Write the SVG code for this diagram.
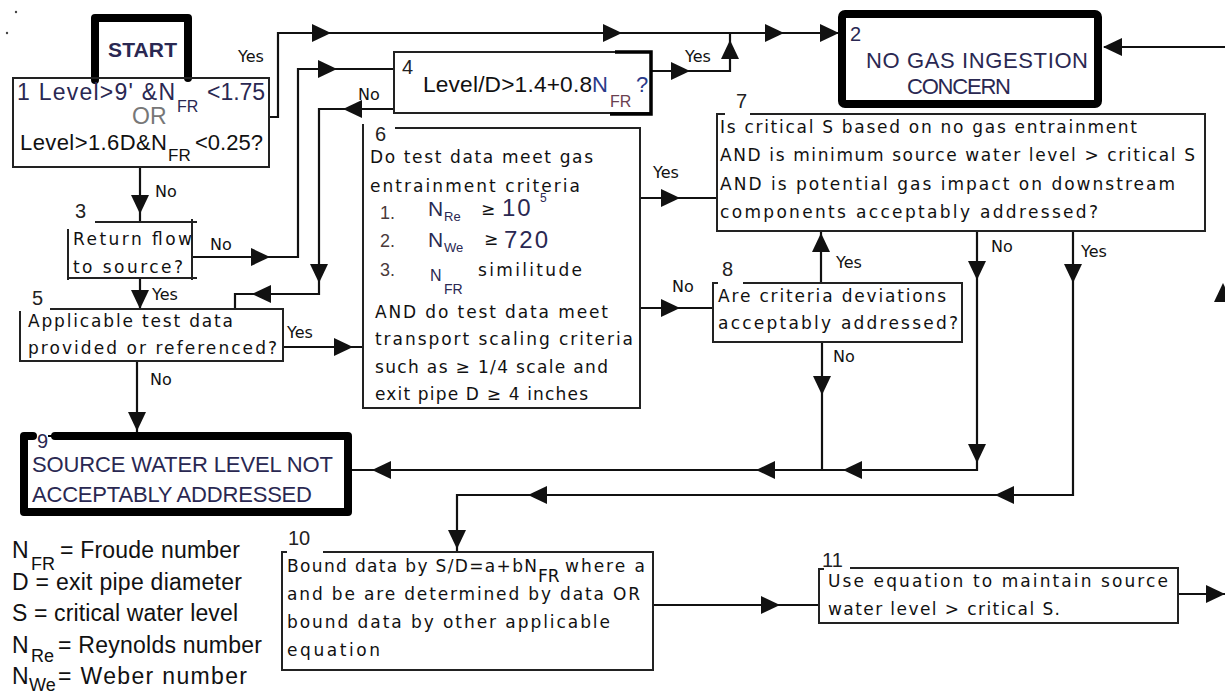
<svg xmlns="http://www.w3.org/2000/svg" xmlns:xlink="http://www.w3.org/1999/xlink" width="1225" height="693" viewBox="0 0 1225 693">
<style>
.bx{font-family:"DejaVu Sans",sans-serif;font-size:17px;fill:#111}
.lb{font-family:"DejaVu Sans",sans-serif;font-size:16px;fill:#111}
.cf{font-family:"Liberation Sans",Arial,sans-serif;fill:#111}
.num{font-family:"Liberation Sans",Arial,sans-serif;font-size:20px;fill:#222}
.col{fill:#2a2852}
.box{fill:none;stroke:#222;stroke-width:2}
.thick{fill:none;stroke:#000;stroke-width:8;stroke-linejoin:round;stroke-linecap:round}
.ln{fill:none;stroke:#111;stroke-width:2.2}
</style>
<defs>
<path id="ah" d="M0,0 L-19,-9 L-19,9 Z" fill="#111"/>
</defs>
<rect width="1225" height="693" fill="#fff"/>
<circle cx="16" cy="12" r="1.2" fill="#444"/>
<circle cx="7" cy="33" r="1.2" fill="#444"/>

<g id="connectors">
<path class="ln" d="M269,117 H278 V33 H838"/>
<path class="ln" d="M651,71 H730 V33"/>
<path class="ln" d="M140,167 V222"/>
<path class="ln" d="M192,257 H298 V69 H394"/>
<path class="ln" d="M394,109 H319 V294 H235 V309"/>
<path class="ln" d="M140,278 V309"/>
<path class="ln" d="M283,347 H362"/>
<path class="ln" d="M137,361 V432"/>
<path class="ln" d="M640,198 H717"/>
<path class="ln" d="M640,308 H713"/>
<path class="ln" d="M821,283 V231"/>
<path class="ln" d="M822,342 V470"/>
<path class="ln" d="M977,231 V470 H352"/>
<path class="ln" d="M1073,231 V495 H457 V552"/>
<path class="ln" d="M653,605 H819"/>
<path class="ln" d="M1178,594 H1225"/>
<path class="ln" d="M1225,47 H1104"/>
<use xlink:href="#ah" transform="translate(331,33)"/>
<use xlink:href="#ah" transform="translate(622,33)"/>
<use xlink:href="#ah" transform="translate(784,33)"/>
<use xlink:href="#ah" transform="translate(839,33)"/>
<use xlink:href="#ah" transform="translate(690,71)"/>
<use xlink:href="#ah" transform="translate(730,40) rotate(-90)"/>
<use xlink:href="#ah" transform="translate(140,214) rotate(90)"/>
<use xlink:href="#ah" transform="translate(270,257)"/>
<use xlink:href="#ah" transform="translate(337,69)"/>
<use xlink:href="#ah" transform="translate(343,109) rotate(180)"/>
<use xlink:href="#ah" transform="translate(319,283) rotate(90)"/>
<use xlink:href="#ah" transform="translate(252,294) rotate(180)"/>
<use xlink:href="#ah" transform="translate(140,309) rotate(90)"/>
<use xlink:href="#ah" transform="translate(353,347)"/>
<use xlink:href="#ah" transform="translate(137,431) rotate(90)"/>
<use xlink:href="#ah" transform="translate(680,198)"/>
<use xlink:href="#ah" transform="translate(680,308)"/>
<use xlink:href="#ah" transform="translate(821,233) rotate(-90)"/>
<use xlink:href="#ah" transform="translate(822,395) rotate(90)"/>
<use xlink:href="#ah" transform="translate(977,280) rotate(90)"/>
<use xlink:href="#ah" transform="translate(977,463) rotate(90)"/>
<use xlink:href="#ah" transform="translate(843,470) rotate(180)"/>
<use xlink:href="#ah" transform="translate(756,470) rotate(180)"/>
<use xlink:href="#ah" transform="translate(372,470) rotate(180)"/>
<use xlink:href="#ah" transform="translate(1073,283) rotate(90)"/>
<use xlink:href="#ah" transform="translate(995,495) rotate(180)"/>
<use xlink:href="#ah" transform="translate(528,495) rotate(180)"/>
<use xlink:href="#ah" transform="translate(457,549) rotate(90)"/>
<use xlink:href="#ah" transform="translate(780,605)"/>
<use xlink:href="#ah" transform="translate(1225,594)"/>
<use xlink:href="#ah" transform="translate(1103,47) rotate(180)"/>
<use xlink:href="#ah" transform="translate(1223,283) rotate(-90)"/>
<text class="lb" x="238" y="62">Yes</text>
<text class="lb" x="155" y="197">No</text>
<text class="lb" x="210" y="250">No</text>
<text class="lb" x="152" y="300">Yes</text>
<text class="lb" x="287" y="338">Yes</text>
<text class="lb" x="150" y="385">No</text>
<text class="lb" x="358" y="100">No</text>
<text class="lb" x="685" y="62">Yes</text>
<text class="lb" x="653" y="178">Yes</text>
<text class="lb" x="672" y="292">No</text>
<text class="lb" x="836" y="268">Yes</text>
<text class="lb" x="833" y="362">No</text>
<text class="lb" x="991" y="252">No</text>
<text class="lb" x="1081" y="257">Yes</text>
</g>

<g id="start">
<path class="thick" d="M95,80 V18 H188 V78" stroke-width="9"/>
<text class="cf col" x="108" y="57" font-size="21" font-weight="bold" textLength="69">START</text>
</g>

<g id="node1">
<rect class="box" x="13" y="78" width="256" height="89"/>
<text class="cf col" x="17" y="100" font-size="23" textLength="158">1 Level&gt;9' &amp;N</text>
<text class="cf col" x="177" y="112" font-size="16">FR</text>
<text class="cf col" x="207" y="100" font-size="23" textLength="58">&lt;1.75</text>
<text class="cf" x="132" y="124" font-size="23" style="fill:#777">OR</text>
<text class="cf" x="20" y="150" font-size="22" textLength="147">Level&gt;1.6D&amp;N</text>
<text class="cf" x="168" y="161" font-size="17">FR</text>
<text class="cf" x="195" y="150" font-size="22" textLength="68">&lt;0.25?</text>
</g>

<g id="node2">
<rect class="thick" x="842" y="14" width="256" height="90" rx="3"/>
<text class="cf col" x="850" y="41" font-size="20">2</text>
<text class="cf col" x="866" y="68" font-size="22" textLength="222">NO GAS INGESTION</text>
<text class="cf col" x="907" y="94" font-size="22" textLength="104">CONCERN</text>
</g>

<g id="node3">
<path class="box" d="M95,222 H197 M192,219 V280 M68,229 V280 M68,278 H197"/>
<text class="num" x="75" y="218">3</text>
<text class="bx" x="73" y="245" textLength="119">Return flow</text>
<text class="bx" x="73" y="273" textLength="110">to source?</text>
</g>

<g id="node4">
<rect class="box" x="394" y="52" width="257" height="61"/>
<path d="M615,52 H651 V114 H610" fill="none" stroke="#000" stroke-width="3.5"/>
<text class="num" x="402" y="74" font-size="18">4</text>
<text class="cf" x="423" y="92" font-size="22.7" textLength="169">Level/D&gt;1.4+0.8</text>
<text class="cf" x="592" y="92" font-size="22" style="fill:#2a3a8a">N</text>
<text class="cf" x="610" y="107" font-size="16" style="fill:#6a4050">FR</text>
<text class="cf" x="636" y="92" font-size="22" style="fill:#2a3a8a">?</text>
</g>

<g id="node5">
<path class="box" d="M50,309 H283 V362 M20,311 V361 H283"/>
<text class="num" x="32" y="305">5</text>
<text class="bx" x="28" y="327" textLength="205">Applicable test data</text>
<text class="bx" x="28" y="354" textLength="249">provided or referenced?</text>
</g>

<g id="node6">
<path class="box" d="M395,128 H640 V408 H363 V124"/>
<text class="num" x="375" y="141">6</text>
<text class="bx" x="370" y="163" textLength="223">Do test data meet gas</text>
<text class="bx" x="370" y="192" textLength="210">entrainment criteria</text>
<text class="cf" x="380" y="219" font-size="18" style="fill:#4a3a3a">1.</text>
<text class="cf col" x="428" y="216" font-size="21">N</text>
<text class="cf col" x="444" y="221" font-size="13">Re</text>
<text class="bx" x="481" y="215" font-size="15">≥</text>
<text class="cf col" x="502" y="216" font-size="24" letter-spacing="2">10</text>
<text class="cf col" x="540" y="202" font-size="12">5</text>
<text class="cf" x="380" y="247" font-size="18" style="fill:#4a3a3a">2.</text>
<text class="cf col" x="428" y="247" font-size="21">N</text>
<text class="cf col" x="444" y="252" font-size="13">We</text>
<text class="bx" x="484" y="245" font-size="15">≥</text>
<text class="cf col" x="504" y="248" font-size="24" letter-spacing="2">720</text>
<text class="cf" x="380" y="276" font-size="18" style="fill:#4a3a3a">3.</text>
<text class="cf col" x="430" y="281" font-size="16">N</text>
<text class="cf col" x="444" y="294" font-size="14">FR</text>
<text class="bx" x="478" y="276" textLength="104">similitude</text>
<text class="bx" x="375" y="318" textLength="233">AND do test data meet</text>
<text class="bx" x="375" y="345" textLength="258">transport scaling criteria</text>
<text class="bx" x="375" y="373" textLength="233">such as ≥ 1/4 scale and</text>
<text class="bx" x="375" y="400" textLength="213">exit pipe D ≥ 4 inches</text>
</g>

<g id="node7">
<path class="box" d="M725,114 H717 V231 H1205 V114 H750"/>
<text class="num" x="736" y="108">7</text>
<text class="bx" x="720" y="133" textLength="417">Is critical S based on no gas entrainment</text>
<text class="bx" x="720" y="161" textLength="475">AND is minimum source water level &gt; critical S</text>
<text class="bx" x="720" y="190" textLength="455">AND is potential gas impact on downstream</text>
<text class="bx" x="720" y="218" textLength="378">components acceptably addressed?</text>
</g>

<g id="node8">
<path class="box" d="M718,283 H713 V342 H962 V283 H743"/>
<text class="num" x="722" y="276">8</text>
<text class="bx" x="718" y="302" textLength="228">Are criteria deviations</text>
<text class="bx" x="718" y="329" textLength="240">acceptably addressed?</text>
</g>

<g id="node9">
<path class="thick" d="M33,436 H24 V512 H348 V436 H55"/>
<path d="M48,436 H56" stroke="#000" stroke-width="2"/>
<text class="cf col" x="37" y="448" font-size="20">9</text>
<text class="cf col" x="32" y="472" font-size="22" textLength="301">SOURCE WATER LEVEL NOT</text>
<text class="cf col" x="32" y="502" font-size="22" textLength="280">ACCEPTABLY ADDRESSED</text>
</g>

<g id="node10">
<path class="box" d="M287,552 H282 V670 H653 V552 H323"/>
<text class="num" x="288" y="545">10</text>
<text class="bx" x="287" y="572" textLength="250">Bound data by S/D=a+bN</text>
<text class="bx" x="538" y="582" font-size="13">FR</text>
<text class="bx" x="565" y="572" textLength="80">where a</text>
<text class="bx" x="287" y="600" textLength="353">and be are determined by data OR</text>
<text class="bx" x="287" y="628" textLength="323">bound data by other applicable</text>
<text class="bx" x="287" y="656" textLength="93">equation</text>
</g>

<g id="node11">
<path class="box" d="M824,569 H819 V623 H1178 V568 H850"/>
<text class="num" x="822" y="567">11</text>
<text class="bx" x="828" y="587" textLength="340">Use equation to maintain source</text>
<text class="bx" x="828" y="615" textLength="232">water level &gt; critical S.</text>
</g>

<g id="legend">
<text class="cf" x="12" y="558" font-size="23">N</text>
<text class="cf" x="31" y="570" font-size="18">FR</text>
<text class="cf" x="60" y="558" font-size="23" textLength="180">= Froude number</text>
<text class="cf" x="12" y="590" font-size="23" textLength="230">D = exit pipe diameter</text>
<text class="cf" x="12" y="621" font-size="23" textLength="226">S = critical water level</text>
<text class="cf" x="12" y="653" font-size="23">N</text>
<text class="cf" x="31" y="662" font-size="18">Re</text>
<text class="cf" x="58" y="653" font-size="23" textLength="204">= Reynolds number</text>
<text class="cf" x="12" y="684" font-size="23">N</text>
<text class="cf" x="29" y="691" font-size="18">We</text>
<text class="cf" x="58" y="684" font-size="23" textLength="189">= Weber number</text>
</g>
</svg>
